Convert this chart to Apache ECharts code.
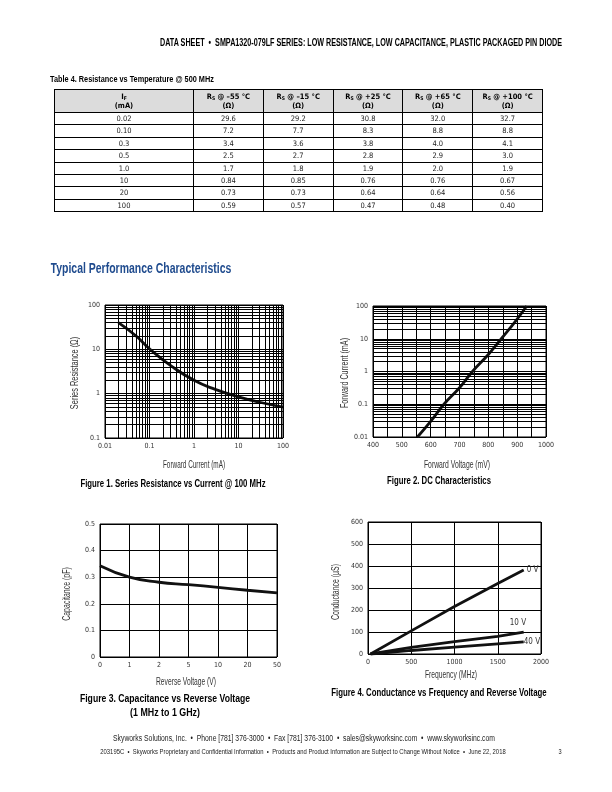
<!DOCTYPE html>
<html><head><meta charset="utf-8">
<script src="https://cdn.jsdelivr.net/npm/echarts@6/dist/echarts.min.js"></script>
<style>
html,body{margin:0;padding:0;background:#fff;}
#page{position:relative;width:612px;height:792px;overflow:hidden;font-family:"Liberation Sans",Arial,sans-serif;color:#000;}
#chart{position:absolute;left:0;top:0;width:612px;height:792px;}
.t{position:absolute;white-space:nowrap;line-height:1;}
#tbl{position:absolute;border-collapse:collapse;left:54px;top:89px;width:488px;table-layout:fixed;font-size:7.5px;line-height:1;font-family:"DejaVu Sans Condensed","DejaVu Sans",sans-serif;}
#tbl td,#tbl th{border:1px solid #000;text-align:center;padding:0;color:#222;}
#tbl th{background:#dcdcdc;font-weight:bold;height:22px;color:#000;line-height:1.25;}
#tbl td{height:11.4px;}
#tbl sub{font-size:5px;vertical-align:-1px;}
</style></head>
<body><div id="page">
<div id="chart"></div>
<table id="tbl"></table>
</div>
<script>
// ---------- Table 4 data ----------
const tableHeaders = ['I<sub>F</sub><br>(mA)', 'R<sub>S</sub> @ –55 °C<br>(Ω)', 'R<sub>S</sub> @ –15 °C<br>(Ω)', 'R<sub>S</sub> @ +25 °C<br>(Ω)', 'R<sub>S</sub> @ +65 °C<br>(Ω)', 'R<sub>S</sub> @ +100 °C<br>(Ω)'];
const tableIF = ['0.02','0.10','0.3','0.5','1.0','10','20','100'];
const rsM55  = ['29.6','7.2','3.4','2.5','1.7','0.84','0.73','0.59'];
const rsM15  = ['29.2','7.7','3.6','2.7','1.8','0.85','0.73','0.57'];
const rsP25  = ['30.8','8.3','3.8','2.8','1.9','0.76','0.64','0.47'];
const rsP65  = ['32.0','8.8','4.0','2.9','2.0','0.76','0.64','0.48'];
const rsP100 = ['32.7','8.8','4.1','3.0','1.9','0.67','0.56','0.40'];

// ---------- Figure 1: Series resistance vs current ----------
const fig1Current    = [0.02, 0.05, 0.1, 0.3, 1, 3, 10, 30, 100];
const fig1Resistance = [40, 20, 10.3, 4.3, 2.0, 1.25, 0.85, 0.64, 0.5];
const fig1XTicks = ['0.01','0.1','1','10','100'];
const fig1YTicks = ['0.1','1','10','100'];

// ---------- Figure 2: DC characteristics ----------
const fig2Voltage = [554, 600, 646, 700, 745, 800, 845, 900, 933];
const fig2Current = [0.01, 0.03, 0.1, 0.32, 1, 3.3, 10, 40, 100];
const fig2YTicks = ['0.01','0.1','1','10','100'];

// ---------- Figure 3: Capacitance vs reverse voltage ----------
const fig3Voltage = ['0','1','2','5','10','20','50'];
const fig3Capacitance = [0.343, 0.30, 0.281, 0.272, 0.262, 0.251, 0.241];

// ---------- Figure 4: Conductance vs frequency ----------
const fig4Freq = [30, 500, 1000, 1500, 1800];
const fig4G0V  = [0, 105, 216, 320, 382];
const fig4G10V = [0, 30, 56, 80, 99];
const fig4G40V = [0, 16, 31, 46, 55];
const fig4Names = ['0 V', '10 V', '40 V'];

// ---------- page texts ----------
const pageTexts = [
  {t: 'DATA SHEET &nbsp;•&nbsp; SMPA1320-079LF SERIES: LOW RESISTANCE, LOW CAPACITANCE, PLASTIC PACKAGED PIN DIODE', cx: 361, cy: 43, w: 402, s: 10, b: 1},
  {t: 'Table 4. Resistance vs Temperature @ 500 MHz', cx: 132, cy: 79, w: 164, s: 9.5, b: 1},
  {t: 'Typical Performance Characteristics', cx: 140.5, cy: 268, w: 181, s: 14, b: 1, c: '#1f4b8e'},
  {t: 'Figure 1. Series Resistance vs Current @ 100 MHz', cx: 172.5, cy: 484, w: 185, s: 10, b: 1},
  {t: 'Figure 2. DC Characteristics', cx: 439, cy: 481, w: 104, s: 10, b: 1},
  {t: 'Figure 3. Capacitance vs Reverse Voltage', cx: 165, cy: 699, w: 170, s: 10, b: 1},
  {t: '(1 MHz to 1 GHz)', cx: 165, cy: 713, w: 70, s: 10, b: 1},
  {t: 'Figure 4. Conductance vs Frequency and Reverse Voltage', cx: 438.5, cy: 693, w: 215, s: 10, b: 1},
  {t: 'Skyworks Solutions, Inc. &nbsp;•&nbsp; Phone [781] 376-3000 &nbsp;•&nbsp; Fax [781] 376-3100 &nbsp;•&nbsp; sales@skyworksinc.com &nbsp;•&nbsp; www.skyworksinc.com', cx: 304, cy: 738, w: 382, s: 8.5, c: '#222'},
  {t: '203195C &nbsp;•&nbsp; Skyworks Proprietary and Confidential Information &nbsp;•&nbsp; Products and Product Information are Subject to Change Without Notice &nbsp;•&nbsp; June 22, 2018', cx: 303, cy: 751, w: 405, s: 7, c: '#222'},
  {t: '3', cx: 560, cy: 751, s: 7, c: '#222'},
  // axis titles
  {t: 'Forward Current (mA)', cx: 194, cy: 464, w: 62, s: 10.5, c: '#333'},
  {t: 'Series Resistance (Ω)', cx: 74, cy: 373, w: 72, s: 10.5, c: '#333', r: 1},
  {t: 'Forward Voltage (mV)', cx: 457, cy: 464, w: 66, s: 10.5, c: '#333'},
  {t: 'Forward Current (mA)', cx: 344, cy: 373, w: 70, s: 10.5, c: '#333', r: 1},
  {t: 'Reverse Voltage (V)', cx: 186, cy: 681, w: 60, s: 10.5, c: '#333'},
  {t: 'Capacitance (pF)', cx: 66, cy: 594, w: 54, s: 10.5, c: '#333', r: 1},
  {t: 'Frequency (MHz)', cx: 451, cy: 674, w: 52, s: 10.5, c: '#333'},
  {t: 'Conductance (µS)', cx: 335, cy: 592, w: 56, s: 10.5, c: '#333', r: 1}
];

// build table
(function(){
  const cols = [tableIF, rsM55, rsM15, rsP25, rsP65, rsP100];
  let h = '<colgroup><col style="width:139px">' + '<col style="width:69.8px">'.repeat(5) + '</colgroup>';
  h += '<tr>' + tableHeaders.map(x => '<th>' + x + '</th>').join('') + '</tr>';
  for (let r = 0; r < tableIF.length; r++) {
    h += '<tr>' + cols.map(c => '<td>' + c[r] + '</td>').join('') + '</tr>';
  }
  document.getElementById('tbl').innerHTML = h;
})();

// place page texts (condensed by horizontal scaling to match the original narrow typeface)
(function(){
  const page = document.getElementById('page');
  pageTexts.forEach(o => {
    const d = document.createElement('div');
    d.className = 't';
    d.innerHTML = o.t;
    d.style.fontSize = o.s + 'px';
    d.style.fontWeight = o.b ? 'bold' : 'normal';
    d.style.color = o.c || '#000';
    d.style.left = o.cx + 'px';
    d.style.top = o.cy + 'px';
    page.appendChild(d);
    const sc = o.w ? o.w / d.offsetWidth : 0.8;
    d.style.transform = 'translate(-50%,-50%)' + (o.r ? ' rotate(-90deg)' : '') + ' scaleX(' + sc + ')';
  });
})();

const FONT = '"DejaVu Sans Condensed","DejaVu Sans",sans-serif';
function minorLog(lo, hi) {
  const out = [];
  for (let e = Math.round(Math.log10(lo)); e < Math.round(Math.log10(hi)); e++) {
    for (let m = 2; m <= 9; m++) out.push(+(m * Math.pow(10, e)).toPrecision(3));
  }
  return out;
}
const fmt = v => String(+(+v).toPrecision(6));
const lbl = {fontFamily: FONT, fontSize: 7, color: '#333', margin: 5};
const split = {show: true, lineStyle: {color: '#000', width: 1}};
const gridStyle = {show: true, borderColor: '#000', borderWidth: 1, backgroundColor: 'transparent'};
const curve = {color: '#111', width: 2.8};
const ml = (data) => ({silent: true, symbol: ['none','none'], label: {show: false}, animation: false,
  lineStyle: {color: '#000', width: 1, type: 'solid'}, emphasis: {disabled: true}, data: data});

const chart = echarts.init(document.getElementById('chart'), null, {renderer: 'canvas'});
chart.setOption({
  animation: false,
  textStyle: {fontFamily: FONT},
  grid: [
    Object.assign({left: 105, top: 305, width: 178, height: 133}, gridStyle),
    Object.assign({left: 373, top: 306, width: 173, height: 131}, gridStyle),
    Object.assign({left: 100, top: 524, width: 177, height: 133}, gridStyle),
    Object.assign({left: 368, top: 522, width: 173, height: 132}, gridStyle)
  ],
  xAxis: [
    {gridIndex: 0, type: 'log', logBase: 10, min: 0.01, max: 100, axisLine: {show: false}, axisTick: {show: false},
     axisLabel: Object.assign({formatter: v => fig1XTicks.find(t => +t === +fmt(v)) || fmt(v)}, lbl), splitLine: split},
    {gridIndex: 1, type: 'value', min: 400, max: 1000, interval: 100, axisLine: {show: false}, axisTick: {show: false},
     axisLabel: Object.assign({formatter: v => String(v)}, lbl), splitLine: split,
     minorTick: {show: false, splitNumber: 2}, minorSplitLine: {show: true, lineStyle: {color: '#000', width: 1}}},
    {gridIndex: 2, type: 'category', data: fig3Voltage, boundaryGap: false, axisLine: {show: false}, axisTick: {show: false},
     axisLabel: Object.assign({interval: 0}, lbl), splitLine: Object.assign({interval: 0}, split)},
    {gridIndex: 3, type: 'value', min: 0, max: 2000, interval: 500, axisLine: {show: false}, axisTick: {show: false},
     axisLabel: Object.assign({formatter: v => String(v)}, lbl), splitLine: split}
  ],
  yAxis: [
    {gridIndex: 0, type: 'log', logBase: 10, min: 0.1, max: 100, axisLine: {show: false}, axisTick: {show: false},
     axisLabel: Object.assign({formatter: v => fig1YTicks.find(t => +t === +fmt(v)) || fmt(v)}, lbl), splitLine: split},
    {gridIndex: 1, type: 'log', logBase: 10, min: 0.01, max: 100, axisLine: {show: false}, axisTick: {show: false},
     axisLabel: Object.assign({formatter: v => fig2YTicks.find(t => +t === +fmt(v)) || fmt(v)}, lbl), splitLine: split},
    {gridIndex: 2, type: 'value', min: 0, max: 0.5, interval: 0.1, axisLine: {show: false}, axisTick: {show: false},
     axisLabel: lbl, splitLine: split},
    {gridIndex: 3, type: 'value', min: 0, max: 600, interval: 100, axisLine: {show: false}, axisTick: {show: false},
     axisLabel: Object.assign({formatter: v => String(v)}, lbl), splitLine: split}
  ],
  series: [
    {type: 'line', xAxisIndex: 0, yAxisIndex: 0, smooth: true, showSymbol: false, lineStyle: curve,
     data: fig1Current.map((x, i) => [x, fig1Resistance[i]]),
     markLine: ml(minorLog(0.01, 100).map(v => ({xAxis: v})).concat(minorLog(0.1, 100).map(v => ({yAxis: v}))))},
    {type: 'line', xAxisIndex: 1, yAxisIndex: 1, smooth: true, showSymbol: false, lineStyle: curve,
     data: fig2Voltage.map((x, i) => [x, fig2Current[i]]),
     markLine: ml(minorLog(0.01, 100).map(v => ({yAxis: v})))},
    {type: 'line', xAxisIndex: 2, yAxisIndex: 2, smooth: true, showSymbol: false, lineStyle: curve,
     data: fig3Capacitance},
    {type: 'line', name: fig4Names[0], xAxisIndex: 3, yAxisIndex: 3, showSymbol: false, lineStyle: curve,
     data: fig4Freq.map((x, i) => [x, fig4G0V[i]]),
     endLabel: {show: true, formatter: '{a}', fontFamily: FONT, fontSize: 8, color: '#333', distance: 3}},
    {type: 'line', name: fig4Names[1], xAxisIndex: 3, yAxisIndex: 3, showSymbol: false, lineStyle: curve,
     data: fig4Freq.map((x, i) => [x, fig4G10V[i]]),
     endLabel: {show: true, formatter: '{a}', fontFamily: FONT, fontSize: 8, color: '#333', offset: [-22, -9]}},
    {type: 'line', name: fig4Names[2], xAxisIndex: 3, yAxisIndex: 3, showSymbol: false, lineStyle: curve,
     data: fig4Freq.map((x, i) => [x, fig4G40V[i]]),
     endLabel: {show: true, formatter: '{a}', fontFamily: FONT, fontSize: 8, color: '#333', distance: 0}}
  ]
});
</script>
</body></html>
